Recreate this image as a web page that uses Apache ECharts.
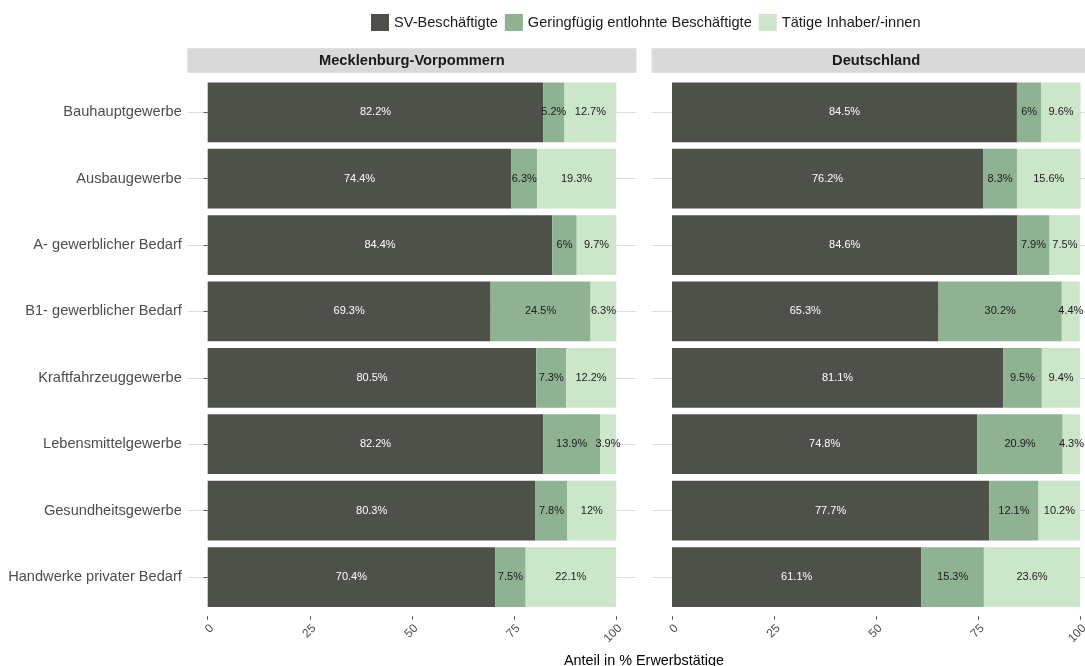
<!DOCTYPE html>
<html>
<head>
<meta charset="utf-8">
<script src="https://cdn.jsdelivr.net/npm/echarts@6/dist/echarts.min.js"></script>
<style>
html,body{margin:0;padding:0;background:#fff;}
#chart{width:1085px;height:666px;}
</style>
</head>
<body>
<div id="chart"></div>
<script>
const categories = ['Bauhauptgewerbe','Ausbaugewerbe','A- gewerblicher Bedarf','B1- gewerblicher Bedarf','Kraftfahrzeuggewerbe','Lebensmittelgewerbe','Gesundheitsgewerbe','Handwerke privater Bedarf'];
const seriesNames = ['SV-Beschäftigte','Geringfügig entlohnte Beschäftigte','Tätige Inhaber/-innen'];
const panelNames = ['Mecklenburg-Vorpommern','Deutschland'];
const mvSV = [82.2, 74.4, 84.4, 69.3, 80.5, 82.2, 80.3, 70.4];
const mvGering = [5.2, 6.3, 6, 24.5, 7.3, 13.9, 7.8, 7.5];
const mvInhaber = [12.7, 19.3, 9.7, 6.3, 12.2, 3.9, 12, 22.1];
const deSV = [84.5, 76.2, 84.6, 65.3, 81.1, 74.8, 77.7, 61.1];
const deGering = [6, 8.3, 7.9, 30.2, 9.5, 20.9, 12.1, 15.3];
const deInhaber = [9.6, 15.6, 7.5, 4.4, 9.4, 4.3, 10.2, 23.6];
const xTicks = [0, 25, 50, 75, 100];
const xTitle = 'Anteil in % Erwerbstätige';

const colors = ['#4d514a', '#8fb293', '#cce6c9'];
const labelColors = ['#ffffff', '#1a1a1a', '#1a1a1a'];
const FONT = '"Liberation Sans", Arial, Helvetica, sans-serif';

const chart = echarts.init(document.getElementById('chart'), null, {renderer: 'canvas'});

// panel geometry: 4.082 px per percent, panel spans -5..105 (right panel cut by canvas edge)
const pxPerUnit = 4.082;
const gridTop = 79.1, gridH = 531.1;
const grids = [
  {left: 187.3, top: gridTop, width: 110 * pxPerUnit, height: gridH, outerBoundsMode: 'none', containLabel: false},
  {left: 651.6, top: gridTop, width: 1085 - 651.6, height: gridH, outerBoundsMode: 'none', containLabel: false}
];
const xMax = [105, -5 + (1085 - 651.6) / pxPerUnit];

function xAxisFor(i) {
  return {
    type: 'value', gridIndex: i, min: -5, max: xMax[i],
    offset: 6,
    axisLine: {show: false},
    axisTick: {show: true, length: 3.5, customValues: xTicks, lineStyle: {color: '#555', width: 1}},
    axisLabel: {
      show: true, customValues: xTicks, rotate: 45, align: 'right', verticalAlign: 'top',
      margin: 6, fontSize: 12, color: '#4d4d4d', fontFamily: FONT, hideOverlap: false
    },
    splitLine: {show: false}
  };
}
function yAxisFor(i) {
  return {
    type: 'category', gridIndex: i, data: categories, inverse: true,
    axisLine: {show: false},
    axisTick: {show: i === 0, length: 4, alignWithLabel: true, lineStyle: {color: '#555', width: 1}},
    axisLabel: {show: i === 0, margin: 5.5, fontSize: 14.6, color: '#4d4d4d', fontFamily: FONT},
    splitLine: {show: true, alignWithLabel: true, lineStyle: {color: '#dedede', width: 1}}
  };
}

const panelData = [[mvSV, mvGering, mvInhaber], [deSV, deGering, deInhaber]];
const series = [];
panelData.forEach(function (arrs, p) {
  arrs.forEach(function (vals, k) {
    series.push({
      type: 'bar', name: seriesNames[k], xAxisIndex: p, yAxisIndex: p,
      stack: 'panel' + p, data: vals, barCategoryGap: '10%',
      itemStyle: {color: colors[k]},
      label: {
        show: true, position: 'inside', formatter: function (d) { return d.value + '%'; },
        fontSize: 11, color: labelColors[k], fontFamily: FONT
      },
      emphasis: {disabled: true},
      animation: false
    });
  });
});

const graphics = [];
const stripW = 110 * pxPerUnit;
grids.forEach(function (g, i) {
  graphics.push({
    type: 'rect', shape: {x: g.left, y: 48.3, width: stripW, height: 24.4},
    style: {fill: '#d9d9d9'}, silent: true
  });
  graphics.push({
    type: 'text', x: g.left + stripW / 2, y: 60.5,
    style: {text: panelNames[i], fill: '#1a1a1a', font: 'bold 14.7px ' + FONT, textAlign: 'center', textVerticalAlign: 'middle'},
    silent: true
  });
});
graphics.push({
  type: 'text', x: 644, y: 661.3,
  style: {text: xTitle, fill: '#000', font: '14.4px ' + FONT, textAlign: 'center', textVerticalAlign: 'middle'},
  silent: true
});

chart.setOption({
  animation: false,
  backgroundColor: '#ffffff',
  textStyle: {fontFamily: FONT},
  legend: {
    left: 371, top: 14, padding: 0, itemWidth: 18, itemHeight: 17, itemGap: 7,
    icon: 'rect', data: seriesNames,
    textStyle: {fontSize: 14.6, color: '#1a1a1a', fontFamily: FONT},
    selectedMode: false
  },
  grid: grids,
  xAxis: [xAxisFor(0), xAxisFor(1)],
  yAxis: [yAxisFor(0), yAxisFor(1)],
  series: series,
  graphic: graphics
});
</script>
</body>
</html>
